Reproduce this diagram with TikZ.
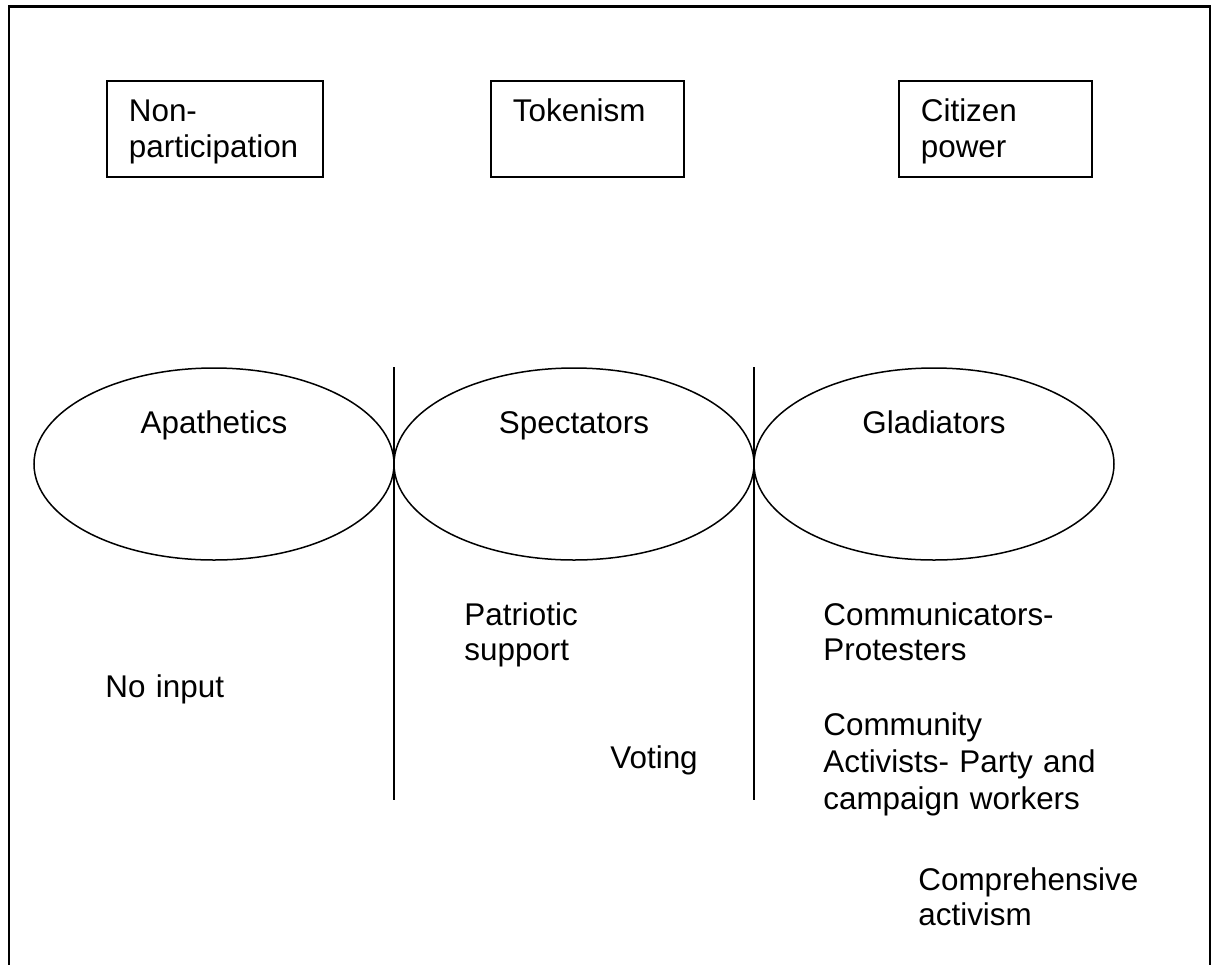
\documentclass[tikz,border=0pt]{standalone}
\usepackage{fontspec}
\setmainfont{Liberation Sans}
\usetikzlibrary{shapes.geometric}

\begin{document}
\begin{tikzpicture}[x=0.5pt,y=-0.5pt,
	every node/.style={font=\fontsize{15.7pt}{17.8pt}\selectfont},
	rung/.style={draw=black,line width=0.9pt,anchor=north west,inner xsep=11pt,inner ysep=0pt,align=left,text height=20.5pt,text depth=27.5pt},
	camp/.style={shape=ellipse,draw=black,line width=0.75pt,minimum width=180pt,minimum height=96pt,inner sep=0pt,text height=0pt,text depth=31pt},
	remark/.style={anchor=base west,inner sep=0pt,align=left,text width=150pt}]
	
	\useasboundingbox (0,0) rectangle (1212,965);
	\draw[line width=1.1pt] (9,965) -- (9,6.5) -- (1210,6.5) -- (1210,965);
	
	\node[rung,text width=86pt]   (nonpart)  at (106,80) {Non-\\participation};
	\node[rung,text width=74.5pt] (tokenism) at (490,80) {Tokenism};
	\node[rung,text width=74.5pt] (citizen)  at (898,80) {Citizen\\power};
	
	\node[camp] (apathetics) at (214,464) {Apathetics};
	\node[camp] (spectators) at (574,464) {Spectators};
	\node[camp] (gladiators) at (934,464) {Gladiators};
	
	\coordinate (leftTop) at (394,367);
	\coordinate (leftBot) at (394,800);
	\coordinate (rightTop) at (754,367);
	\coordinate (rightBot) at (754,800);
	\path[-, line width=0.75pt] (leftTop) edge (leftBot);
	\path[-, line width=0.75pt] (rightTop) edge (rightBot);
	
	\node[remark] (noinput)       at (105,697) {No input};
	\node[remark] (patriotic)     at (464,625) {Patriotic\\support};
	\node[remark] (voting)        at (610,768) {Voting};
	\node[remark] (communicators) at (823,625) {Communicators-\\Protesters};
	\node[remark,font=\fontsize{15.7pt}{18.7pt}\selectfont] (community) at (823,735) {Community\\Activists- Party and\\campaign workers};
	\node[remark] (comprehensive) at (918,890) {Comprehensive\\activism};
	
\end{tikzpicture}
\end{document}
